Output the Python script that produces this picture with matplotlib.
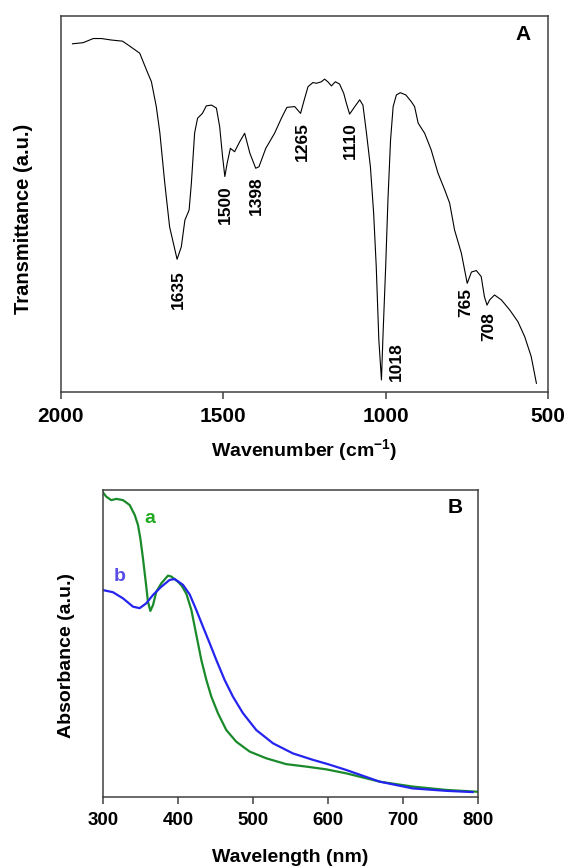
import matplotlib
matplotlib.use('Agg')
import matplotlib.pyplot as plt
import numpy as np

plt.rcParams['font.family'] = ['Liberation Sans', 'DejaVu Sans']
plt.rcParams['font.weight'] = 'bold'
plt.rcParams['mathtext.fontset'] = 'custom'
plt.rcParams['mathtext.rm'] = 'Liberation Sans:bold'
plt.rcParams['mathtext.bf'] = 'Liberation Sans:bold'
plt.rcParams['mathtext.default'] = 'bf'

FIGURE_XSIZE = 5.68
FIGURE_YSIZE = 8.68
SPINE_RGB = '#404040'

# panel A: FTIR spectrum
wavenumber = [1964, 1931, 1900, 1875, 1844, 1810, 1788, 1757, 1736, 1721,
              1706, 1695, 1680, 1665, 1642, 1629, 1618, 1605, 1598, 1588,
              1579, 1564, 1552, 1536, 1521, 1511, 1502, 1495, 1488, 1478,
              1465, 1449, 1434, 1418, 1400, 1390, 1369, 1342, 1321, 1304,
              1280, 1262, 1249, 1239, 1224, 1213, 1198, 1188, 1178, 1167,
              1155, 1142, 1129, 1121, 1111, 1095, 1080, 1070, 1059, 1047,
              1037, 1029, 1021, 1013, 1008, 1000, 993, 985, 977, 967,
              955, 938, 921, 911, 900, 880, 860, 839, 818, 803,
              788, 767, 749, 736, 721, 706, 696, 688, 680, 665,
              644, 618, 593, 572, 552, 536]
transmittance = [92.6, 92.9, 94.0, 94.0, 93.6, 93.3, 92.0, 90.1, 85.6, 82.5,
                 75.9, 68.9, 55.6, 43.9, 35.3, 38.6, 45.7, 48.4, 55.6, 68.9,
                 72.8, 74.1, 76.1, 76.3, 75.5, 70.6, 62.6, 57.3, 60.8, 64.8,
                 63.9, 66.6, 68.8, 63.5, 59.5, 59.9, 64.8, 68.8, 72.8, 75.7,
                 75.9, 74.1, 78.2, 81.2, 82.3, 82.1, 82.5, 83.2, 82.5, 81.4,
                 82.5, 81.9, 79.4, 76.8, 73.9, 75.9, 77.7, 76.3, 68.8, 59.9,
                 47.5, 33.3, 13.8, 3.2, 15.6, 33.3, 51.1, 67.0, 75.9, 79.0,
                 79.6, 79.0, 77.2, 75.9, 71.5, 68.8, 64.4, 58.2, 53.7, 50.2,
                 43.1, 36.9, 28.9, 31.9, 32.3, 30.7, 25.3, 23.1, 24.5, 25.8,
                 24.5, 21.8, 18.7, 14.7, 9.4, 2.3]

peak_labels = ['1635', '1500', '1398', '1265', '1110', '1018', '765', '708']
peak_label_x = [1639, 1493, 1398, 1255, 1108, 967, 752, 683]
peak_label_y = [32.4, 55.1, 57.4, 71.8, 71.8, 13.3, 27.7, 21.3]

# panel B: UV-vis spectra
wavelength_a = [300, 304.5, 311, 318, 326.7, 335.6, 342.3, 346.7, 349.8, 353.3,
                357, 360, 363.2, 366.7, 371.2, 377.8, 386.7, 391.2, 400, 405,
                411.2, 417.9, 422.3, 426.7, 431.2, 437.9, 444.5, 453.3, 464.5, 477.8,
                495.6, 517.8, 544.5, 571.2, 597.9, 624.5, 669, 713, 758, 800]
absorbance_a = [99.2, 97.8, 96.7, 97.1, 96.7, 95.1, 91.9, 88.6, 84.3, 77.8,
                70.1, 63.6, 60.6, 62.5, 66.9, 69.6, 72.1, 71.8, 70.1, 68.8,
                66.2, 60.9, 55.5, 50.1, 44.6, 38.1, 32.7, 27.3, 21.8, 18.0,
                14.8, 12.6, 10.7, 9.9, 9.0, 7.7, 5.0, 3.4, 2.3, 1.7]

wavelength_b = [300, 313.3, 326.7, 340, 348.9, 357.8, 366.7, 377.8, 388.9, 395.6,
                406.7, 415.6, 424.5, 433.3, 442.3, 451.2, 462.3, 473.3, 486.7, 504.5,
                526.7, 553.3, 580, 600, 624.5, 669, 713, 758, 793]
absorbance_b = [67.4, 66.7, 64.7, 62.0, 61.5, 63.1, 65.8, 68.5, 70.7, 71.0,
                69.1, 66.0, 60.9, 55.5, 50.1, 44.6, 38.1, 32.7, 27.3, 21.8,
                17.5, 14.2, 12.1, 10.7, 8.8, 5.0, 2.8, 2.0, 1.6]


def set_axis_properties(axes):
    for spine in axes.spines.values():
        spine.set_color(SPINE_RGB)
        spine.set_linewidth(1.1)
    axes.tick_params(axis='x', direction='out', length=5, width=1.1,
                     color=SPINE_RGB, pad=6)
    axes.tick_params(axis='y', left=False, labelleft=False)


figure = plt.figure(figsize=(FIGURE_XSIZE, FIGURE_YSIZE), dpi=100, facecolor='white')

# ---- panel A
axes_a = figure.add_axes([0.107, 0.5484, 0.858, 0.4332])
set_axis_properties(axes_a)
axes_a.plot(wavenumber, transmittance, color='black', linewidth=0.8)
axes_a.set_xlim(2000, 500)
axes_a.set_ylim(0, 100)
axes_a.set_xticks([2000, 1500, 1000, 500])
axes_a.tick_params(axis='x', labelsize=15)
for text, x, y in zip(peak_labels, peak_label_x, peak_label_y):
    axes_a.text(x, y, text, rotation=90, ha='center', va='top',
                fontsize=12.5, fontweight='bold')
axes_a.text(0.965, 0.975, 'A', transform=axes_a.transAxes, ha='right', va='top',
            fontsize=15, fontweight='bold')
axes_a.set_xlabel('Wavenumber (cm$^{-1}$)', fontsize=14, fontweight='bold', labelpad=8)
axes_a.set_ylabel('Transmittance (a.u.)', fontsize=14.5, fontweight='bold')
axes_a.yaxis.set_label_coords(-0.057, 0.46)

# ---- panel B
axes_b = figure.add_axes([0.1813, 0.0818, 0.660, 0.3537])
set_axis_properties(axes_b)
axes_b.plot(wavelength_a, absorbance_a, color='#1a8a2a', linewidth=1.6)
axes_b.plot(wavelength_b, absorbance_b, color='#2424ee', linewidth=1.6)
axes_b.set_xlim(300, 800)
axes_b.set_ylim(0, 100)
axes_b.set_xticks([300, 400, 500, 600, 700, 800])
axes_b.tick_params(axis='x', labelsize=13.5)
axes_b.text(362, 90.8, 'a', color='#22aa22', fontsize=14, fontweight='bold',
            ha='center', va='center')
axes_b.text(322, 71.8, 'b', color='#5a4ee6', fontsize=14, fontweight='bold',
            ha='center', va='center')
axes_b.text(0.96, 0.975, 'B', transform=axes_b.transAxes, ha='right', va='top',
            fontsize=15, fontweight='bold')
axes_b.set_xlabel('Wavelength (nm)', fontsize=14, fontweight='bold', labelpad=14)
axes_b.set_ylabel('Absorbance (a.u.)', fontsize=14, fontweight='bold')
axes_b.yaxis.set_label_coords(-0.075, 0.46)

figure.savefig('out.png', dpi=100)
